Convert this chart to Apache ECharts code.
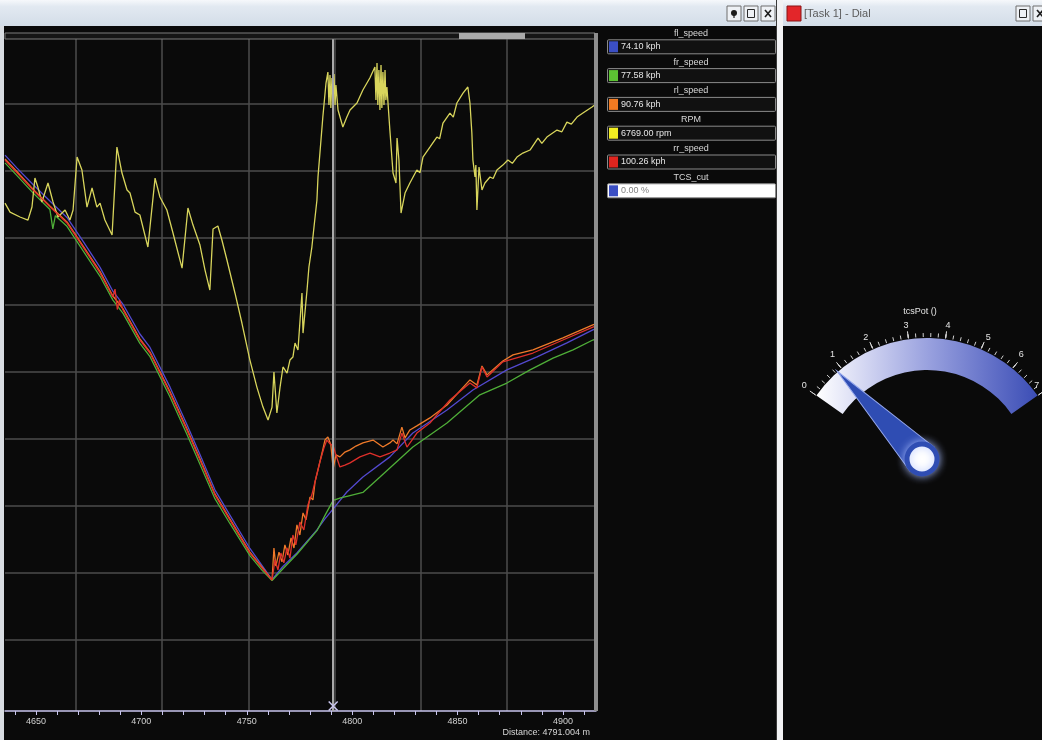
<!DOCTYPE html>
<html>
<head>
<meta charset="utf-8">
<script src="https://cdn.jsdelivr.net/npm/echarts@6/dist/echarts.min.js"></script>
<style>
  html, body { margin: 0; padding: 0; background: #0a0a0a; overflow: hidden; }
  #c { width: 1042px; height: 740px; }
</style>
</head>
<body>
<div id="c"></div>
<script>
// Cursor position on the distance axis (m)
const cursorDistance = 4791.004;

// Distance axis labels and minor ticks (m)
const distanceLabels = [4650, 4700, 4750, 4800, 4850, 4900];
const distanceTicks = [4640, 4650, 4660, 4670, 4680, 4690, 4700, 4710, 4720, 4730, 4740, 4750, 4760, 4770,
  4780, 4790, 4800, 4810, 4820, 4830, 4840, 4850, 4860, 4870, 4880, 4890, 4900, 4910];

// Wheel speeds [distance m, kph]
const flSpeed = [[4635.3,221.2],[4641.0,215.8],[4648.6,209.0],[4656.6,202.1],[4664.7,195.3],[4672.3,185.4],
  [4680.4,174.5],[4686.5,164.6],[4691.3,159.1],[4699.3,146.8],[4704.1,141.2],[4713.6,124.7],[4721.6,109.2],
  [4727.8,96.7],[4734.9,82.0],[4742.0,71.5],[4751.5,57.6],[4757.2,50.6],[4762.0,44.6],[4767.0,50.0],
  [4773.8,55.7],[4783.3,65.3],[4787.0,69.8],[4791.004,74.10],[4797.5,81.1],[4805.1,87.3],[4817.9,95.7],
  [4828.8,105.6],[4845.0,115.2],[4857.3,123.5],[4873.4,131.9],[4887.7,137.3],[4901.9,143.1],[4914.2,148.5],
  [4915.7,148.9]];

const frSpeed = [[4635.3,218.0],[4641.0,212.7],[4648.6,205.5],[4656.6,198.6],[4658.0,190.5],[4659.2,196.0],
  [4664.7,191.6],[4672.3,181.5],[4680.4,170.8],[4686.5,160.9],[4691.3,155.4],[4699.3,142.9],[4704.1,137.4],
  [4713.6,120.6],[4721.6,105.1],[4727.8,92.6],[4734.9,78.3],[4742.0,68.0],[4751.5,54.6],[4757.2,48.6],
  [4762.0,44.3],[4767.5,49.5],[4773.8,55.2],[4783.3,65.0],[4787.5,72.0],[4791.004,77.58],[4794.5,78.6],
  [4798.0,79.4],[4805.1,80.9],[4813.2,87.3],[4828.8,99.8],[4845.0,109.8],[4860.6,121.5],[4873.4,126.4],
  [4884.4,131.9],[4895.3,136.8],[4904.8,140.2],[4914.2,144.3],[4915.7,144.8]];

const rlSpeed = [[4635.3,219.6],[4641.0,214.3],[4648.6,207.0],[4656.6,200.1],[4664.7,193.4],[4672.3,183.5],
  [4680.4,172.8],[4686.5,162.6],[4691.3,157.3],[4699.3,144.8],[4704.1,139.3],[4713.6,122.8],[4721.6,107.4],
  [4727.8,94.9],[4734.9,80.3],[4742.0,69.9],[4751.5,56.1],[4757.2,49.8],[4762.0,44.5],[4762.9,57.8],
  [4763.8,50.3],[4765.3,56.1],[4766.7,52.0],[4768.1,59.1],[4769.5,54.9],[4771.0,62.0],[4772.4,57.8],
  [4773.8,67.4],[4775.2,63.2],[4776.7,72.4],[4778.1,69.5],[4780.0,79.0],[4781.4,77.8],[4782.4,85.3],
  [4783.8,90.3],[4785.7,97.3],[4787.1,102.7],[4788.5,104.0],[4789.9,100.7],[4791.004,90.76],[4792.3,96.5],
  [4794.2,95.7],[4796.6,97.7],[4799.0,98.6],[4801.8,100.2],[4805.1,101.5],[4809.9,102.7],[4814.6,99.8],
  [4817.9,101.5],[4819.4,102.7],[4821.3,101.1],[4823.6,108.1],[4825.1,103.6],[4827.4,106.9],[4830.7,108.6],
  [4836.9,111.9],[4845.0,117.3],[4855.9,127.7],[4859.2,125.6],[4861.6,133.5],[4864.0,129.8],[4871.5,135.6],
  [4876.3,138.1],[4885.8,140.2],[4900.0,145.2],[4914.2,150.6],[4915.7,151.0]];

const rrSpeed = [[4635.3,219.2],[4641.0,213.8],[4648.6,206.7],[4656.6,199.7],[4664.7,193.0],[4672.3,183.0],
  [4680.4,172.2],[4686.5,162.2],[4687.5,165.5],[4688.6,157.0],[4689.6,161.0],[4691.3,156.8],[4699.3,144.3],
  [4704.1,138.9],[4713.6,122.3],[4721.6,106.9],[4727.8,94.4],[4734.9,79.9],[4742.0,69.5],[4751.5,55.7],
  [4757.2,49.5],[4762.0,44.5],[4763.4,52.8],[4764.8,48.7],[4766.2,55.7],[4767.6,51.6],[4769.1,57.8],
  [4770.5,53.6],[4771.9,63.2],[4773.3,59.1],[4775.2,68.6],[4777.1,65.3],[4779.0,75.7],[4780.9,79.9],
  [4782.8,86.9],[4784.7,93.6],[4786.6,99.4],[4788.0,102.7],[4789.5,101.1],[4791.004,100.26],[4792.3,96.5],
  [4794.2,91.5],[4796.6,92.3],[4799.0,93.2],[4803.7,95.7],[4808.5,97.3],[4813.2,95.7],[4817.9,97.3],
  [4821.3,98.6],[4823.6,105.6],[4826.0,99.8],[4828.4,102.7],[4830.7,105.6],[4836.9,109.8],[4846.4,119.4],
  [4855.9,126.4],[4859.2,124.4],[4861.6,133.1],[4864.0,128.9],[4871.5,135.2],[4885.8,138.9],[4900.0,144.3],
  [4914.2,149.7],[4915.7,150.2]];

// Engine speed [distance m, rpm]
const engineRpm = [[4635.3,5845],[4637.7,5768],[4642.4,5726],[4646.2,5700],[4648.1,5811],[4649.5,6059],
  [4650.9,5982],[4652.8,5854],[4655.7,6017],[4658.1,5854],[4660.4,5726],[4663.8,5786],[4666.1,5700],
  [4667.6,5786],[4669.5,6239],[4671.8,6128],[4674.2,5811],[4676.6,5974],[4678.9,5811],[4680.4,5845],
  [4682.7,5700],[4686.1,5572],[4688.4,6324],[4690.8,6102],[4693.2,5957],[4694.6,5931],[4697.0,5768],
  [4699.3,5743],[4703.1,5469],[4706.5,6059],[4708.8,5897],[4712.1,5786],[4715.0,5589],[4719.3,5289],
  [4722.1,5803],[4724.5,5657],[4727.8,5486],[4730.2,5272],[4732.5,5101],[4734.0,5623],[4736.3,5649],
  [4738.2,5529],[4740.6,5358],[4744.4,5076],[4747.7,4819],[4751.5,4502],[4754.8,4271],[4757.7,4100],
  [4760.1,3989],[4762.0,4100],[4762.9,4400],[4764.3,4049],[4765.8,4271],[4767.2,4443],[4769.1,4391],
  [4770.5,4502],[4771.9,4528],[4772.9,4648],[4774.3,4588],[4776.2,5076],[4776.7,4733],[4778.6,5101],
  [4779.5,5298],[4780.9,5469],[4781.9,5640],[4783.3,5871],[4783.8,6068],[4786.1,6581],[4787.6,6872],
  [4788.5,6966],[4789.0,6684],[4789.5,6940],[4789.9,6658],[4790.4,6915],[4791.004,6769],[4791.4,6949],
  [4791.9,6684],[4792.3,6855],[4793.3,6641],[4795.6,6496],[4797.5,6581],[4799.0,6641],[4802.3,6701],
  [4805.1,6812],[4808.4,6915],[4810.8,7009],[4811.3,6726],[4811.8,7043],[4812.2,6684],[4812.7,6983],
  [4813.2,6641],[4813.7,7026],[4814.1,6658],[4814.6,6966],[4815.1,6684],[4815.6,6983],[4816.0,6726],
  [4816.5,6838],[4817.9,6470],[4819.4,6102],[4820.8,6017],[4821.3,6401],[4822.2,6213],[4823.2,5760],
  [4825.1,5931],[4827.4,6017],[4830.7,6128],[4832.2,6105],[4833.6,6239],[4836.9,6324],[4840.2,6410],
  [4841.5,6395],[4843.1,6530],[4846.4,6615],[4848.0,6580],[4849.7,6701],[4852.6,6786],[4854.9,6838],
  [4855.9,6701],[4856.8,6444],[4857.3,6213],[4858.3,6068],[4858.7,6170],[4859.2,5786],[4860.2,6153],
  [4861.6,5957],[4863.0,6017],[4865.4,6068],[4866.9,6055],[4868.7,6128],[4871.5,6170],[4873.9,6213],
  [4876.0,6185],[4878.2,6239],[4881.0,6273],[4884.4,6299],[4888.2,6401],[4890.0,6355],[4892.4,6410],
  [4897.2,6470],[4899.5,6455],[4901.9,6538],[4904.0,6520],[4906.7,6581],[4909.5,6615],[4913.8,6667],
  [4915.7,6692]];

// Traction control cut [distance m, %]
const tcsCut = [[4635.3,0],[4915.7,0]];

// Dial channel
const dialName = 'tcsPot ()';
const tcsPot = 0.7;

// Readout channels (name, unit, colour, samples)
const channelNames = ['fl_speed', 'fr_speed', 'rl_speed', 'RPM', 'rr_speed', 'TCS_cut'];
const channelUnits = ['kph', 'kph', 'kph', 'rpm', 'kph', '%'];
const channelColors = ['#3b4fc4', '#5cc233', '#f07a22', '#f2ee22', '#e0251f', '#3b4fc4'];
const channelData = [flSpeed, frSpeed, rlSpeed, engineRpm, rrSpeed, tcsCut];

const lineColors = { fl: '#5349cf', fr: '#4fae38', rl: '#ef7a2a', rpm: '#d8d55c', rr: '#de2f2a' };

function valueAt(points, d) {
  for (let i = 1; i < points.length; i++) {
    if (points[i][0] >= d) {
      const a = points[i - 1], b = points[i];
      return a[1] + (b[1] - a[1]) * (d - a[0]) / (b[0] - a[0]);
    }
  }
  return points[points.length - 1][1];
}

const FONT = '"Liberation Sans", Arial, sans-serif';

// ---- window chrome ----
const barGrad = () => new echarts.graphic.LinearGradient(0, 0, 0, 1, [
  { offset: 0, color: '#f6f8fb' }, { offset: 0.25, color: '#e2e9f1' }, { offset: 1, color: '#d3dde8' }
]);

function button(x, y) {
  return { type: 'rect', shape: { x: x, y: y, width: 14, height: 15 },
    style: { fill: '#eef1f5', stroke: '#6f6f6f', lineWidth: 1 }, z: 20 };
}
function closeIcon(x, y) {
  return [
    { type: 'line', shape: { x1: x + 4, y1: y + 4, x2: x + 10, y2: y + 11 }, style: { stroke: '#1c1c1c', lineWidth: 1.6 }, z: 21 },
    { type: 'line', shape: { x1: x + 10, y1: y + 4, x2: x + 4, y2: y + 11 }, style: { stroke: '#1c1c1c', lineWidth: 1.6 }, z: 21 }
  ];
}
function restoreIcon(x, y) {
  return { type: 'rect', shape: { x: x + 3.5, y: y + 3.5, width: 7, height: 8 },
    style: { fill: 'none', stroke: '#2a2a2a', lineWidth: 1 }, z: 21 };
}

const graphics = [
  { type: 'rect', shape: { x: 0, y: 0, width: 777, height: 26 }, style: { fill: barGrad() }, z: 10 },
  { type: 'rect', shape: { x: 783, y: 0, width: 259, height: 26 }, style: { fill: barGrad() }, z: 10 },
  { type: 'rect', shape: { x: 0, y: 26, width: 4, height: 714 }, style: { fill: '#d9dde2' }, z: 10 },
  { type: 'rect', shape: { x: 776, y: 0, width: 1, height: 740 }, style: { fill: '#3a3a3a' }, z: 10 },
  { type: 'rect', shape: { x: 777, y: 0, width: 6, height: 740 }, style: { fill: '#f2f3f5' }, z: 10 },

  button(727, 6),
  { type: 'circle', shape: { cx: 734, cy: 13, r: 3 }, style: { fill: '#1c1c1c' }, z: 21 },
  { type: 'line', shape: { x1: 734, y1: 15, x2: 734, y2: 18 }, style: { stroke: '#1c1c1c', lineWidth: 1.2 }, z: 21 },
  button(744, 6), restoreIcon(744, 6),
  button(761, 6), ...closeIcon(761, 6),
  { type: 'rect', shape: { x: 787, y: 6, width: 14, height: 15 }, style: { fill: '#e3262a', stroke: '#8a1414', lineWidth: 1 }, z: 20 },
  { type: 'text', x: 804, y: 14, style: { text: '[Task 1] - Dial', fill: '#5b5b5b', font: '11px ' + FONT, verticalAlign: 'middle' }, z: 20 },
  button(1016, 6), restoreIcon(1016, 6),
  button(1033, 6), ...closeIcon(1033, 6),

  // horizontal scroller above the trace area
  { type: 'rect', shape: { x: 5, y: 33, width: 590, height: 6 }, style: { fill: '#151515', stroke: '#7c7c7c', lineWidth: 1 }, z: 12 },
  { type: 'rect', shape: { x: 459, y: 33, width: 66, height: 6 }, style: { fill: '#a9a9a9' }, z: 13 },
  { type: 'rect', shape: { x: 594, y: 33, width: 4, height: 678 }, style: { fill: '#8e8e8e' }, z: 12 },

  // cursor readout
  { type: 'text', x: 590, y: 733, style: { text: 'Distance: ' + cursorDistance.toFixed(3) + ' m', fill: '#d6d6d6',
      font: '9px ' + FONT, align: 'right', verticalAlign: 'middle' }, z: 20 }
];

// channel readouts at the cursor
channelNames.forEach((name, i) => {
  const y0 = 39.3 + 28.8 * i;
  const v = valueAt(channelData[i], cursorDistance);
  const white = channelUnits[i] === '%';
  graphics.push(
    { type: 'text', x: 691, y: y0 - 6, style: { text: name, fill: '#d8d8d8', font: '9px ' + FONT, align: 'center', verticalAlign: 'middle' }, z: 20 },
    { type: 'rect', shape: { x: 607.5, y: y0 + 0.5, width: 168, height: 14, r: 1 },
      style: { fill: white ? '#ffffff' : '#111111', stroke: '#8a8a8a', lineWidth: 1 }, z: 20 },
    { type: 'rect', shape: { x: 609, y: y0 + 2, width: 9, height: 11 }, style: { fill: channelColors[i] }, z: 21 },
    { type: 'text', x: 621, y: y0 + 7.5, style: { text: v.toFixed(2) + ' ' + channelUnits[i],
        fill: white ? '#808080' : '#e6e6e6', font: '9px ' + FONT, verticalAlign: 'middle' }, z: 21 }
  );
});

const lineSeries = (name, data, color, yAxisIndex, extra) => Object.assign({
  name: name, type: 'line', xAxisIndex: 0, yAxisIndex: yAxisIndex, data: data,
  showSymbol: false, symbol: 'none', silent: true,
  lineStyle: { color: color, width: 1.3 }, z: 3
}, extra || {});

const arcGradient = new echarts.graphic.LinearGradient(0, 0, 1, 0, [
  { offset: 0, color: '#ffffff' }, { offset: 0.22, color: '#d3d6f2' }, { offset: 0.5, color: '#9aa2df' },
  { offset: 0.75, color: '#6a77cb' }, { offset: 1, color: '#3b4db5' }
]);

const option = {
  backgroundColor: '#0a0a0a',
  animation: false,
  textStyle: { fontFamily: FONT },
  graphic: graphics,
  grid: [
    { left: 5, top: 33, width: 591, height: 678 },      // traces
    { left: 5, top: 104, width: 589, height: 536 },     // horizontal grid lines
    { left: 76, top: 39, width: 431.1, height: 672 }    // vertical grid lines
  ],
  xAxis: [
    { type: 'value', gridIndex: 0, min: 4635.3, max: 4915.7,
      axisLine: { show: true, onZero: false, lineStyle: { color: '#c9c5ee', width: 1.5 } },
      axisTick: { show: true, customValues: distanceTicks, length: 4, lineStyle: { color: '#c9c5ee' } },
      axisLabel: { show: true, customValues: distanceLabels, formatter: v => String(v),
        color: '#d2d2d2', fontSize: 9, margin: 6 },
      splitLine: { show: false } },
    { type: 'value', gridIndex: 1, min: 0, max: 1, show: false },
    { type: 'value', gridIndex: 2, min: 0, max: 5, interval: 1,
      axisLine: { show: false }, axisTick: { show: false }, axisLabel: { show: false },
      splitLine: { show: true, lineStyle: { color: '#4c4c4c', width: 1.5 } } }
  ],
  yAxis: [
    { type: 'value', gridIndex: 0, min: -10, max: 272, show: false, splitLine: { show: false } },
    { type: 'value', gridIndex: 0, min: 1500, max: 7300, show: false, splitLine: { show: false } },
    { type: 'value', gridIndex: 1, min: 0, max: 8, interval: 1,
      axisLine: { show: false }, axisTick: { show: false }, axisLabel: { show: false },
      splitLine: { show: true, lineStyle: { color: '#4c4c4c', width: 1.5 } } },
    { type: 'value', gridIndex: 2, min: 0, max: 1, show: false, splitLine: { show: false } },
    { type: 'value', gridIndex: 0, min: 0, max: 100, show: false, splitLine: { show: false } }
  ],
  series: [
    lineSeries('fl_speed', flSpeed, lineColors.fl, 0, {
      markLine: {
        silent: true, symbol: ['none', 'none'], label: { show: false },
        lineStyle: { color: '#a9a9a9', width: 2, type: 'solid' },
        data: [{ xAxis: cursorDistance }]
      },
      markPoint: {
        silent: true, symbol: 'path://M0,0 L10,10 M10,0 L0,10', symbolSize: 9,
        itemStyle: { color: 'none', borderColor: '#c9c5ee', borderWidth: 1.5 }, label: { show: false },
        data: [{ coord: [cursorDistance, -7.9] }]
      }
    }),
    lineSeries('fr_speed', frSpeed, lineColors.fr, 0),
    lineSeries('rl_speed', rlSpeed, lineColors.rl, 0),
    lineSeries('RPM', engineRpm, lineColors.rpm, 1),
    lineSeries('rr_speed', rrSpeed, lineColors.rr, 0),
    lineSeries('TCS_cut', tcsCut, '#3b4fc4', 4, { lineStyle: { color: '#3b4fc4', width: 1.3, opacity: 0 } }),
    {
      type: 'gauge', center: [927, 473], radius: 135, startAngle: 145, endAngle: 35,
      min: 0, max: 7, splitNumber: 7,
      axisLine: { lineStyle: { width: 32, color: [[1, arcGradient]] } },
      splitLine: { distance: -40, length: 7, lineStyle: { color: '#e4e4e4', width: 1 } },
      axisTick: { splitNumber: 5, distance: -37, length: 4, lineStyle: { color: '#d0d0d0', width: 1 } },
      axisLabel: { distance: 15, color: '#e4e4e4', fontSize: 9,
        formatter: v => (v === 7 ? '{e|7}' : String(v)),
        rich: { e: { color: '#e4e4e4', fontSize: 9, padding: [0, 13, 0, 0] } } },
      pointer: { show: false }, anchor: { show: false },
      title: { offsetCenter: [-7, -161], color: '#e4e4e4', fontSize: 9 },
      detail: { show: false },
      data: [{ value: tcsPot, name: dialName }]
    },
    {
      type: 'gauge', center: [922, 459], radius: 120, startAngle: 145, endAngle: 35,
      min: 0, max: 7,
      axisLine: { show: false }, splitLine: { show: false }, axisTick: { show: false }, axisLabel: { show: false },
      pointer: { icon: 'path://M5,0 L10,100 L0,100 Z', length: 122, width: 34, offsetCenter: [0, 0],
        itemStyle: { color: '#2f4db3', borderColor: '#93a6ec', borderWidth: 1 } },
      anchor: { show: true, showAbove: true, size: 30, icon: 'circle',
        itemStyle: { color: '#ffffff', borderColor: '#2f4db3', borderWidth: 5, shadowBlur: 8, shadowColor: 'rgba(170,190,255,0.8)' } },
      title: { show: false }, detail: { show: false },
      data: [{ value: tcsPot }]
    }
  ]
};

const chart = echarts.init(document.getElementById('c'), null, { renderer: 'canvas', width: 1042, height: 740 });
chart.setOption(option);
</script>
</body>
</html>
